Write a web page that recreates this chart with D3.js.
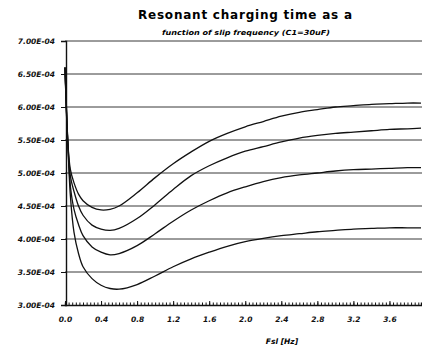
<!DOCTYPE html>
<html>
<head>
<meta charset="utf-8">
<script src="https://cdn.jsdelivr.net/npm/d3@7"></script>
<style>
    body { margin: 0; background: #fff; }
    svg { display: block; }
</style>
</head>
<body>
<svg id="chart"></svg>
<script>
// Slip frequency (Hz)
const fsl = [0, 0.03, 0.06, 0.1, 0.15, 0.2, 0.3, 0.4, 0.5, 0.6, 0.8, 1.0, 1.2, 1.4, 1.6,
    1.8, 2.0, 2.2, 2.4, 2.6, 2.8, 3.0, 3.2, 3.4, 3.6, 3.8, 3.95];

// Charging time, in units of 1E-04 s
const timeA = [6.6, 5.5, 5.05, 4.85, 4.68, 4.58, 4.48, 4.44, 4.45, 4.50, 4.70, 4.93, 5.14, 5.32, 5.48,
    5.60, 5.70, 5.78, 5.86, 5.92, 5.96, 6.00, 6.02, 6.04, 6.05, 6.06, 6.06];
const timeB = [6.6, 5.5, 4.95, 4.72, 4.50, 4.36, 4.21, 4.15, 4.13, 4.16, 4.31, 4.52, 4.75, 4.96, 5.11,
    5.23, 5.33, 5.40, 5.47, 5.53, 5.57, 5.60, 5.62, 5.64, 5.66, 5.67, 5.68];
const timeC = [6.6, 5.5, 4.80, 4.45, 4.22, 4.05, 3.88, 3.80, 3.76, 3.78, 3.90, 4.08, 4.27, 4.44, 4.58,
    4.70, 4.79, 4.87, 4.93, 4.97, 5.00, 5.03, 5.05, 5.06, 5.07, 5.08, 5.08];
const timeD = [6.6, 5.5, 4.65, 4.10, 3.78, 3.58, 3.40, 3.30, 3.25, 3.24, 3.31, 3.44, 3.58, 3.70, 3.80,
    3.89, 3.96, 4.01, 4.05, 4.08, 4.11, 4.13, 4.15, 4.16, 4.17, 4.17, 4.17];

const yTicks = [7.0, 6.5, 6.0, 5.5, 5.0, 4.5, 4.0, 3.5, 3.0];
const yTickLabels = ["7.00E-04", "6.50E-04", "6.00E-04", "5.50E-04", "5.00E-04",
    "4.50E-04", "4.00E-04", "3.50E-04", "3.00E-04"];
const xTicks = [0.0, 0.4, 0.8, 1.2, 1.6, 2.0, 2.4, 2.8, 3.2, 3.6];

const width = 422;
const height = 350;

let svg = d3.select("#chart")
    .attr("width", width)
    .attr("height", height);

let x = d3.scaleLinear().domain([0, 3.95]).range([65, 421]);
let y = d3.scaleLinear().domain([3.0, 7.0]).range([305, 41]);

const labelFont = "DejaVu Sans";

// Title
svg.append("text")
    .attr("x", 138)
    .attr("y", 19)
    .attr("textLength", 214)
    .attr("lengthAdjust", "spacing")
    .style("font-family", labelFont)
    .style("font-size", "12px")
    .style("font-weight", "bold")
    .text("Resonant charging time as a");

svg.append("text")
    .attr("x", 162)
    .attr("y", 35)
    .attr("textLength", 168)
    .attr("lengthAdjust", "spacingAndGlyphs")
    .style("font-family", labelFont)
    .style("font-size", "7px")
    .style("font-weight", "bold")
    .style("font-style", "italic")
    .text("function of slip frequency (C1=30uF)");

// Horizontal grid lines
svg.append("g")
    .selectAll("line")
    .data(yTicks.filter(d => d > 3.0))
    .enter()
    .append("line")
    .attr("x1", x(0))
    .attr("x2", width)
    .attr("y1", d => y(d))
    .attr("y2", d => y(d))
    .attr("stroke", "#222")
    .attr("stroke-width", 0.9);

// Y axis
let yAxis = svg.append("g")
    .attr("transform", `translate(${x(0) + 1},0)`)
    .call(d3.axisLeft(y)
        .tickValues(yTicks)
        .tickSize(5)
        .tickPadding(6)
        .tickFormat((d, i) => yTickLabels[i]));
yAxis.select(".domain").attr("stroke", "#111").attr("stroke-width", 1.4);
yAxis.selectAll(".tick line").attr("stroke", "#111");
yAxis.selectAll("text")
    .style("font-family", labelFont)
    .style("font-size", "7.5px")
    .style("font-weight", "bold")
    .style("font-style", "italic")
    .attr("fill", "#111");

// X axis: small inward ticks plus labels
let minorTicks = d3.range(0, 3.95, 0.04);
let xMinor = svg.append("g")
    .attr("transform", `translate(0,${y(3.0)})`)
    .call(d3.axisBottom(x)
        .tickValues(minorTicks)
        .tickSize(-2.5)
        .tickFormat(""));
xMinor.select(".domain").attr("stroke", "#111").attr("stroke-width", 1.4);
xMinor.selectAll(".tick line").attr("stroke", "#111");

let xAxis = svg.append("g")
    .attr("transform", `translate(0,${y(3.0)})`)
    .call(d3.axisBottom(x)
        .tickValues(xTicks)
        .tickSize(-4)
        .tickPadding(12)
        .tickFormat(d3.format(".1f")));
xAxis.select(".domain").remove();
xAxis.selectAll(".tick line").attr("stroke", "#111");
xAxis.selectAll("text")
    .style("font-family", labelFont)
    .style("font-size", "7.5px")
    .style("font-weight", "bold")
    .style("font-style", "italic")
    .attr("fill", "#111");

svg.append("text")
    .attr("x", 282)
    .attr("y", 344)
    .attr("text-anchor", "middle")
    .style("font-family", labelFont)
    .style("font-size", "7.5px")
    .style("font-weight", "bold")
    .style("font-style", "italic")
    .text("Fsl [Hz]");

// Curves
let line = d3.line()
    .x((d, i) => x(fsl[i]))
    .y(d => y(d))
    .curve(d3.curveCatmullRom.alpha(0.5));

svg.append("g")
    .selectAll("path")
    .data([timeA, timeB, timeC, timeD])
    .enter()
    .append("path")
    .attr("d", line)
    .attr("fill", "none")
    .attr("stroke", "#111")
    .attr("stroke-width", 1.3);
</script>
</body>
</html>
